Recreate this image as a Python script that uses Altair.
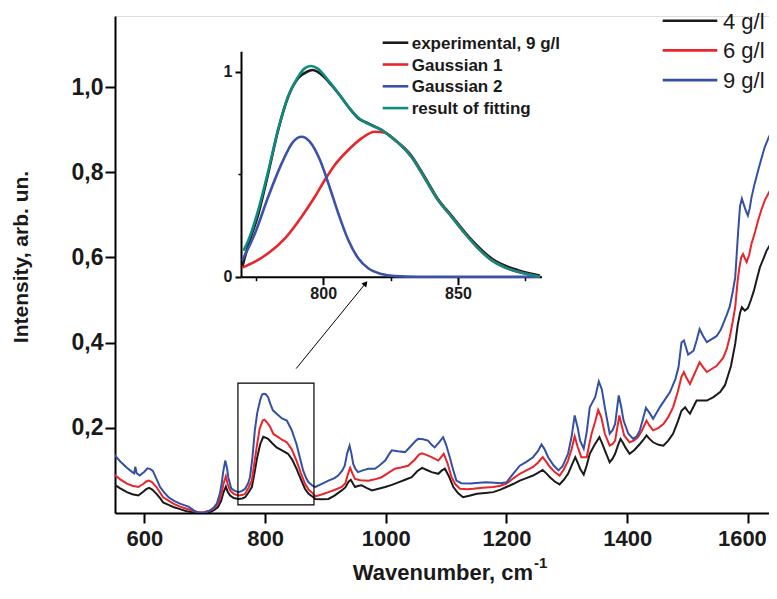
import altair as alt
import pandas as pd

# ---------------- data ----------------
series_names = ["4 g/l", "6 g/l", "9 g/l"]
series_colors = ["#1a1a1a", "#e8252b", "#3450a4"]

s4 = [(550,0.067),(560,0.058),(571,0.049),(580,0.044),(590,0.041),(598,0.050),(603,0.056),(608,0.059),
      (613,0.055),(620,0.045),(626,0.035),(631,0.025),(640,0.019),(648,0.014),(659,0.009),(670,0.004),
      (680,0.002),(689,0.0),(698,0.0),(709,0.002),(716,0.007),(722,0.014),(727,0.028),(731,0.048),
      (735,0.062),(738,0.050),(742,0.041),(748,0.035),(756,0.033),(762,0.034),(767,0.037),(772,0.047),
      (778,0.061),(782,0.090),(787,0.131),(792,0.162),(797,0.179),(801,0.177),(805,0.174),(811,0.165),
      (819,0.154),(828,0.147),(838,0.139),(845,0.125),(852,0.104),(859,0.080),(866,0.057),(872,0.045),
      (880,0.037),(883,0.033),(895,0.032),(905,0.033),(915,0.041),(927,0.053),(933,0.060),(938,0.073),
      (942,0.078),(946,0.068),(949,0.061),(955,0.064),(960,0.065),(968,0.059),(977,0.053),(988,0.057),
      (999,0.061),(1010,0.066),(1021,0.072),(1032,0.078),(1043,0.084),(1052,0.098),(1060,0.106),
      (1068,0.101),(1076,0.096),(1087,0.092),(1093,0.100),(1098,0.104),(1105,0.085),(1112,0.061),
      (1120,0.046),(1128,0.037),(1140,0.041),(1151,0.045),(1165,0.047),(1178,0.049),(1190,0.055),
      (1200,0.061),(1211,0.068),(1222,0.076),(1233,0.082),(1244,0.088),(1252,0.094),(1260,0.101),
      (1266,0.093),(1272,0.084),(1280,0.074),(1288,0.067),(1295,0.078),(1302,0.092),(1308,0.112),
      (1314,0.131),(1318,0.118),(1322,0.104),(1328,0.090),(1333,0.112),(1338,0.139),(1346,0.160),
      (1354,0.178),(1358,0.165),(1363,0.147),(1371,0.119),(1376,0.128),(1380,0.139),(1385,0.160),
      (1389,0.174),(1393,0.165),(1397,0.154),(1404,0.139),(1412,0.148),(1421,0.162),(1427,0.172),
      (1432,0.182),(1437,0.174),(1443,0.166),(1452,0.160),(1460,0.158),(1468,0.170),(1476,0.186),
      (1484,0.215),(1490,0.240),(1496,0.248),(1500,0.240),(1504,0.233),(1510,0.250),(1515,0.264),
      (1524,0.264),(1532,0.264),(1543,0.272),(1554,0.284),(1562,0.300),(1568,0.327),(1572,0.345),
      (1576,0.375),(1579,0.397),(1583,0.440),(1587,0.470),(1590,0.483),(1595,0.475),(1600,0.481),
      (1605,0.500),(1610,0.522),(1615,0.550),(1620,0.577),(1626,0.598),(1631,0.616),(1637,0.630),
      (1642,0.640),(1647,0.651)]

s6 = [(550,0.090),(560,0.079),(571,0.069),(580,0.064),(590,0.061),(598,0.068),(603,0.074),(607,0.076),
      (612,0.073),(620,0.061),(626,0.048),(631,0.037),(640,0.029),(648,0.022),(659,0.015),(670,0.010),
      (680,0.005),(689,0.002),(698,0.002),(709,0.006),(716,0.012),(722,0.022),(727,0.040),(731,0.068),
      (735,0.086),(738,0.068),(742,0.053),(748,0.045),(756,0.041),(762,0.042),(767,0.045),(772,0.058),
      (778,0.076),(782,0.115),(786,0.154),(791,0.198),(796,0.217),(799,0.219),(803,0.213),(808,0.203),
      (814,0.185),(820,0.180),(828,0.172),(836,0.166),(844,0.150),(852,0.123),(859,0.095),(866,0.069),
      (872,0.055),(880,0.045),(883,0.039),(895,0.044),(905,0.049),(915,0.054),(927,0.061),(933,0.070),
      (937,0.090),(941,0.106),(945,0.092),(949,0.080),(958,0.077),(971,0.076),(982,0.079),(993,0.084),
      (1003,0.093),(1015,0.104),(1025,0.107),(1037,0.111),(1048,0.125),(1055,0.137),(1060,0.140),
      (1068,0.136),(1076,0.131),(1087,0.123),(1091,0.130),(1096,0.139),(1102,0.118),(1109,0.084),
      (1115,0.068),(1123,0.057),(1135,0.056),(1145,0.057),(1160,0.059),(1178,0.061),(1190,0.064),
      (1200,0.069),(1212,0.082),(1222,0.092),(1233,0.100),(1244,0.108),(1252,0.118),(1260,0.131),
      (1266,0.120),(1272,0.108),(1280,0.096),(1288,0.088),(1295,0.102),(1302,0.123),(1308,0.150),
      (1313,0.180),(1318,0.155),(1324,0.131),(1333,0.131),(1337,0.160),(1341,0.186),(1347,0.215),
      (1352,0.242),(1357,0.225),(1363,0.186),(1371,0.158),(1376,0.162),(1380,0.170),(1387,0.229),
      (1391,0.205),(1395,0.182),(1404,0.166),(1411,0.170),(1418,0.178),(1425,0.195),(1432,0.217),
      (1437,0.205),(1443,0.194),(1452,0.200),(1460,0.209),(1468,0.225),(1476,0.248),(1484,0.285),
      (1490,0.320),(1494,0.331),(1498,0.318),(1504,0.303),(1512,0.328),(1520,0.354),(1526,0.342),
      (1532,0.331),(1540,0.338),(1548,0.345),(1559,0.364),(1565,0.385),(1570,0.413),(1575,0.450),
      (1579,0.483),(1583,0.545),(1586,0.577),(1589,0.600),(1592,0.608),(1595,0.598),(1598,0.589),
      (1602,0.605),(1606,0.632),(1612,0.660),(1617,0.687),(1622,0.710),(1628,0.734),(1634,0.750),
      (1640,0.766),(1645,0.780),(1649,0.788)]

s9 = [(550,0.137),(560,0.121),(571,0.106),(580,0.096),(583,0.093),(585,0.109),(587,0.094),(592,0.088),
      (600,0.097),(605,0.105),(610,0.103),(614,0.099),(620,0.080),(626,0.061),(633,0.048),(640,0.037),
      (650,0.028),(659,0.022),(667,0.018),(673,0.015),(680,0.008),(684,0.004),(690,0.001),(695,0.0),
      (702,0.002),(709,0.006),(715,0.013),(720,0.022),(725,0.045),(728,0.069),(731,0.100),(734,0.123),
      (737,0.105),(739,0.084),(744,0.057),(750,0.052),(756,0.049),(762,0.052),(767,0.057),(772,0.070),
      (775,0.084),(779,0.130),(783,0.194),(787,0.235),(792,0.266),(795,0.278),(798,0.280),(801,0.279),
      (805,0.272),(809,0.255),(813,0.241),(820,0.232),(828,0.222),(836,0.217),(844,0.195),(852,0.162),
      (858,0.128),(863,0.100),(868,0.082),(872,0.072),(878,0.065),(883,0.061),(895,0.069),(905,0.076),
      (915,0.082),(921,0.088),(928,0.100),(932,0.111),(936,0.140),(940,0.158),(943,0.140),(946,0.115),
      (950,0.103),(954,0.096),(962,0.100),(971,0.104),(982,0.104),(990,0.112),(999,0.123),(1005,0.137),
      (1010,0.147),(1020,0.145),(1032,0.143),(1042,0.158),(1050,0.170),(1054,0.174),(1062,0.173),
      (1070,0.170),(1076,0.160),(1081,0.154),(1088,0.165),(1095,0.178),(1100,0.160),(1106,0.131),
      (1112,0.100),(1117,0.076),(1125,0.070),(1140,0.069),(1155,0.071),(1167,0.072),(1180,0.071),
      (1190,0.070),(1200,0.072),(1210,0.090),(1222,0.111),(1233,0.120),(1244,0.131),(1252,0.145),
      (1258,0.161),(1263,0.150),(1269,0.131),(1278,0.112),(1286,0.100),(1293,0.110),(1302,0.139),
      (1308,0.180),(1313,0.229),(1318,0.200),(1322,0.170),(1328,0.151),(1333,0.190),(1338,0.248),
      (1347,0.272),(1353,0.309),(1358,0.290),(1363,0.248),(1371,0.186),(1376,0.195),(1380,0.209),
      (1386,0.276),(1390,0.250),(1394,0.217),(1402,0.186),(1410,0.174),(1416,0.180),(1421,0.194),
      (1426,0.220),(1431,0.247),(1437,0.235),(1443,0.221),(1454,0.248),(1462,0.265),(1471,0.284),
      (1480,0.315),(1485,0.342),(1490,0.400),(1494,0.405),(1501,0.372),(1510,0.381),(1515,0.405),
      (1520,0.432),(1526,0.415),(1532,0.401),(1540,0.408),(1548,0.415),(1555,0.430),(1559,0.444),
      (1565,0.465),(1570,0.485),(1575,0.520),(1579,0.553),(1584,0.663),(1587,0.720),(1590,0.738),
      (1593,0.725),(1596,0.712),(1600,0.698),(1603,0.715),(1606,0.741),(1611,0.772),(1617,0.804),
      (1622,0.830),(1628,0.859),(1634,0.880),(1640,0.898),(1645,0.912),(1649,0.918)]

# inset (normalised band 770-880 cm-1)
inset_names = ["experimental, 9 g/l", "Gaussian 1", "Gaussian 2", "result of fitting"]
inset_colors = ["#1a1a1a", "#e8252b", "#3a52a8", "#0f8a7e"]

exp9 = [(770,0.049),(772,0.146),(776,0.309),(779.6,0.504),(783.3,0.716),(787,0.878),(790.7,0.968),
        (794,1.0),(796,1.008),(798.8,0.992),(802,0.951),(805.6,0.895),(809.3,0.829),(813,0.773),
        (816.7,0.748),(821.6,0.716),(826.6,0.667),(832.7,0.590),(837.7,0.486),(842.6,0.378),
        (847.6,0.298),(852.5,0.218),(857.4,0.148),(862.4,0.090),(867.3,0.055),(872.2,0.032),
        (877.2,0.014),(880.5,0.004)]
gauss1 = [(770,0.044),(774.7,0.073),(779.6,0.114),(785.8,0.187),(792,0.293),(796.9,0.390),(800.6,0.472),
          (804.3,0.545),(809.3,0.618),(814.2,0.675),(819.1,0.707),(822.9,0.702),(826.6,0.668),
          (832.7,0.585),(837.7,0.480),(842.6,0.374),(847.6,0.293),(852.5,0.212),(857.4,0.139),
          (862.4,0.081),(867.3,0.046),(872.2,0.024),(877.2,0.008),(880.3,0.0)]
gauss2 = [(770,0.081),(774.7,0.212),(779.6,0.390),(784.6,0.553),(788.9,0.659),(792,0.683),(795,0.659),
          (798.8,0.569),(801.9,0.456),(805.6,0.309),(809.3,0.179),(813,0.090),(816.7,0.041),
          (821.6,0.013),(826.6,0.003),(835,0.0),(880.3,0.0)]
fitsum = [(770.4,0.127),(772,0.170),(776,0.330),(779.6,0.515),(783.3,0.720),(787,0.880),(790.7,0.975),
          (793,1.015),(795.4,1.028),(798,1.015),(802,0.955),(805.6,0.895),(809.3,0.830),(813,0.776),
          (816.7,0.745),(821.6,0.716),(826.6,0.667),(832.7,0.585),(837.7,0.480),(842.6,0.374),
          (847.6,0.293),(852.5,0.212),(857.4,0.139),(862.4,0.081),(867.3,0.046),(872.2,0.024),
          (877.2,0.008),(880.3,0.0)]

# zoom box and arrow (data coordinates of the main plot)
zoom_box = {"wn": [755], "wn2": [881], "val": [0.019], "val2": [0.305]}
arrow = {"wn": [851.5], "wn2": [966.5], "val": [0.339], "val2": [0.539]}

x_ticks = [600, 800, 1000, 1200, 1400, 1600]
y_ticks = [0.2, 0.4, 0.6, 0.8, 1.0]

# ---------------- layout ----------------
FONT = "Liberation Sans"
W, H = 654, 497
X_DOM = [551.3, 1635]
Y_DOM = [0, 497 / 426]


def to_df(pts):
    return pd.DataFrame({"wn": [p[0] for p in pts], "val": [p[1] for p in pts]})


one = pd.DataFrame({"k": [0]})

xs = alt.Scale(domain=X_DOM, nice=False, zero=False)
ys = alt.Scale(domain=Y_DOM, nice=False, zero=False)
common_axis = dict(title=None, grid=False, tickSize=10, tickWidth=2, tickColor="black",
                   domainWidth=2, domainColor="black", labelFont=FONT, labelFontWeight="bold",
                   labelColor="#1a1a1a")
x_axis = alt.Axis(values=x_ticks, format="d", labelFontSize=22, labelPadding=5,
                  labelOffset={"condition": {"test": "datum.value >= 1600", "value": -6}, "value": 0},
                  **common_axis)
y_axis = alt.Axis(values=y_ticks, labelExpr="replace(format(datum.value, '.1f'), '.', ',')",
                  labelFontSize=23, labelPadding=2, **common_axis)

main_layers = []
for pts, col in zip([s4, s6, s9], series_colors):
    main_layers.append(
        alt.Chart(to_df(pts)).mark_line(strokeWidth=2, clip=True, color=col).encode(
            x=alt.X("wn:Q", scale=xs, axis=x_axis),
            y=alt.Y("val:Q", scale=ys, axis=y_axis),
        )
    )

box = alt.Chart(pd.DataFrame(zoom_box)).mark_rect(fillOpacity=0, stroke="black", strokeWidth=1.2).encode(
    x=alt.X("wn:Q", scale=xs, axis=x_axis), x2="wn2",
    y=alt.Y("val:Q", scale=ys, axis=y_axis), y2="val2")
arr_line = alt.Chart(pd.DataFrame(arrow)).mark_rule(color="black", strokeWidth=1).encode(
    x=alt.X("wn:Q", scale=xs, axis=x_axis), x2="wn2",
    y=alt.Y("val:Q", scale=ys, axis=y_axis), y2="val2")
arr_head = alt.Chart(pd.DataFrame(arrow)).mark_point(
    shape="triangle-up", filled=True, size=40, angle=39, color="black", opacity=1).encode(
    x=alt.X("wn2:Q", scale=xs, axis=x_axis),
    y=alt.Y("val2:Q", scale=ys, axis=y_axis))
main_layers += [box, arr_line, arr_head]

# axis titles
main_layers.append(alt.Chart(one).mark_text(
    text="Intensity, arb. un.", angle=270, font=FONT, fontSize=21, fontWeight="bold",
    color="#1a1a1a", align="center", baseline="middle").encode(
    x=alt.value(-93), y=alt.value(241)))
main_layers.append(alt.Chart(one).mark_text(
    text="Wavenumber, cm", font=FONT, fontSize=22, fontWeight="bold", color="#1a1a1a",
    align="right", baseline="alphabetic").encode(x=alt.value(418), y=alt.value(564)))
main_layers.append(alt.Chart(one).mark_text(
    text="-1", font=FONT, fontSize=15, fontWeight="bold", color="#1a1a1a",
    align="left", baseline="alphabetic").encode(x=alt.value(419), y=alt.value(552)))

# main legend
for i, (name, col) in enumerate(zip(series_names, series_colors)):
    yy = 4.7 + 29.7 * i
    main_layers.append(alt.Chart(one).mark_rule(color=col, strokeWidth=2.6).encode(
        x=alt.value(547.7), x2=alt.value(602.3), y=alt.value(yy)))
    main_layers.append(alt.Chart(one).mark_text(
        text=name, font=FONT, fontSize=22, color="#1a1a1a", align="left", baseline="middle").encode(
        x=alt.value(608), y=alt.value(yy + 1)))

main = alt.layer(*main_layers)

# ---------------- inset ----------------
IX_DOM, IX_RANGE = [769.5, 881], [126, 426.5]
IY_DOM, IY_RANGE = [0, 1.1], [260.7, 35.2]
ixs = alt.Scale(domain=IX_DOM, range=IX_RANGE, nice=False, zero=False)
iys = alt.Scale(domain=IY_DOM, range=IY_RANGE, nice=False, zero=False)
icommon = dict(title=None, grid=False, tickColor="black", tickWidth=2, domainWidth=2,
               domainColor="black", labelFont=FONT, labelFontWeight="bold", labelFontSize=16,
               labelColor="#1a1a1a")
ix_axis = alt.Axis(orient="bottom", offset=IY_RANGE[0] - H, values=[800, 850], format="d",
                   tickSize=8, labelPadding=1, **icommon)
iy_axis = alt.Axis(orient="left", offset=-IX_RANGE[0], values=[0, 1], format="d",
                   tickSize=6, labelPadding=3, **icommon)

inset_layers = []
for pts, col in zip([exp9, gauss1, gauss2, fitsum], inset_colors):
    inset_layers.append(
        alt.Chart(to_df(pts)).mark_line(strokeWidth=2.6, color=col, interpolate="monotone").encode(
            x=alt.X("wn:Q", scale=ixs, axis=ix_axis),
            y=alt.Y("val:Q", scale=iys, axis=iy_axis)))
for i, (name, col) in enumerate(zip(inset_names, inset_colors)):
    yy = 26.7 + 21.8 * i
    inset_layers.append(alt.Chart(one).mark_rule(color=col, strokeWidth=2.6).encode(
        x=alt.value(267.7), x2=alt.value(293.3), y=alt.value(yy)))
    inset_layers.append(alt.Chart(one).mark_text(
        text=name, font=FONT, fontSize=17, fontWeight="bold", color="#1a1a1a",
        align="left", baseline="middle").encode(x=alt.value(296.7), y=alt.value(yy + 1)))
inset = alt.layer(*inset_layers)

# minor ticks of the inset axes
ixs2 = alt.Scale(domain=IX_DOM, range=IX_RANGE, nice=False, zero=False)
iys2 = alt.Scale(domain=IY_DOM, range=IY_RANGE, nice=False, zero=False)
minor = alt.Chart(to_df(fitsum)).mark_line(strokeOpacity=0).encode(
    x=alt.X("wn:Q", scale=ixs2, axis=alt.Axis(
        orient="bottom", offset=IY_RANGE[0] - H, values=[775, 825, 875], labels=False,
        domain=False, tickSize=4, tickWidth=1.5, tickColor="black", grid=False, title=None)),
    y=alt.Y("val:Q", scale=iys2, axis=alt.Axis(
        orient="left", offset=-IX_RANGE[0], values=[0.5], labels=False, domain=False,
        tickSize=3, tickWidth=1.5, tickColor="black", grid=False, title=None)))

chart = alt.layer(main, inset, minor).resolve_scale(
    x="independent", y="independent"
).properties(
    width=W, height=H,
    padding={"left": 107, "top": 8, "right": 0, "bottom": 73},
    autosize=alt.AutoSizeParams(type="none"),
    background="white",
).configure_view(stroke=None).configure(font=FONT)

chart.save("out.html", embed_options={"renderer": "svg", "actions": False})
